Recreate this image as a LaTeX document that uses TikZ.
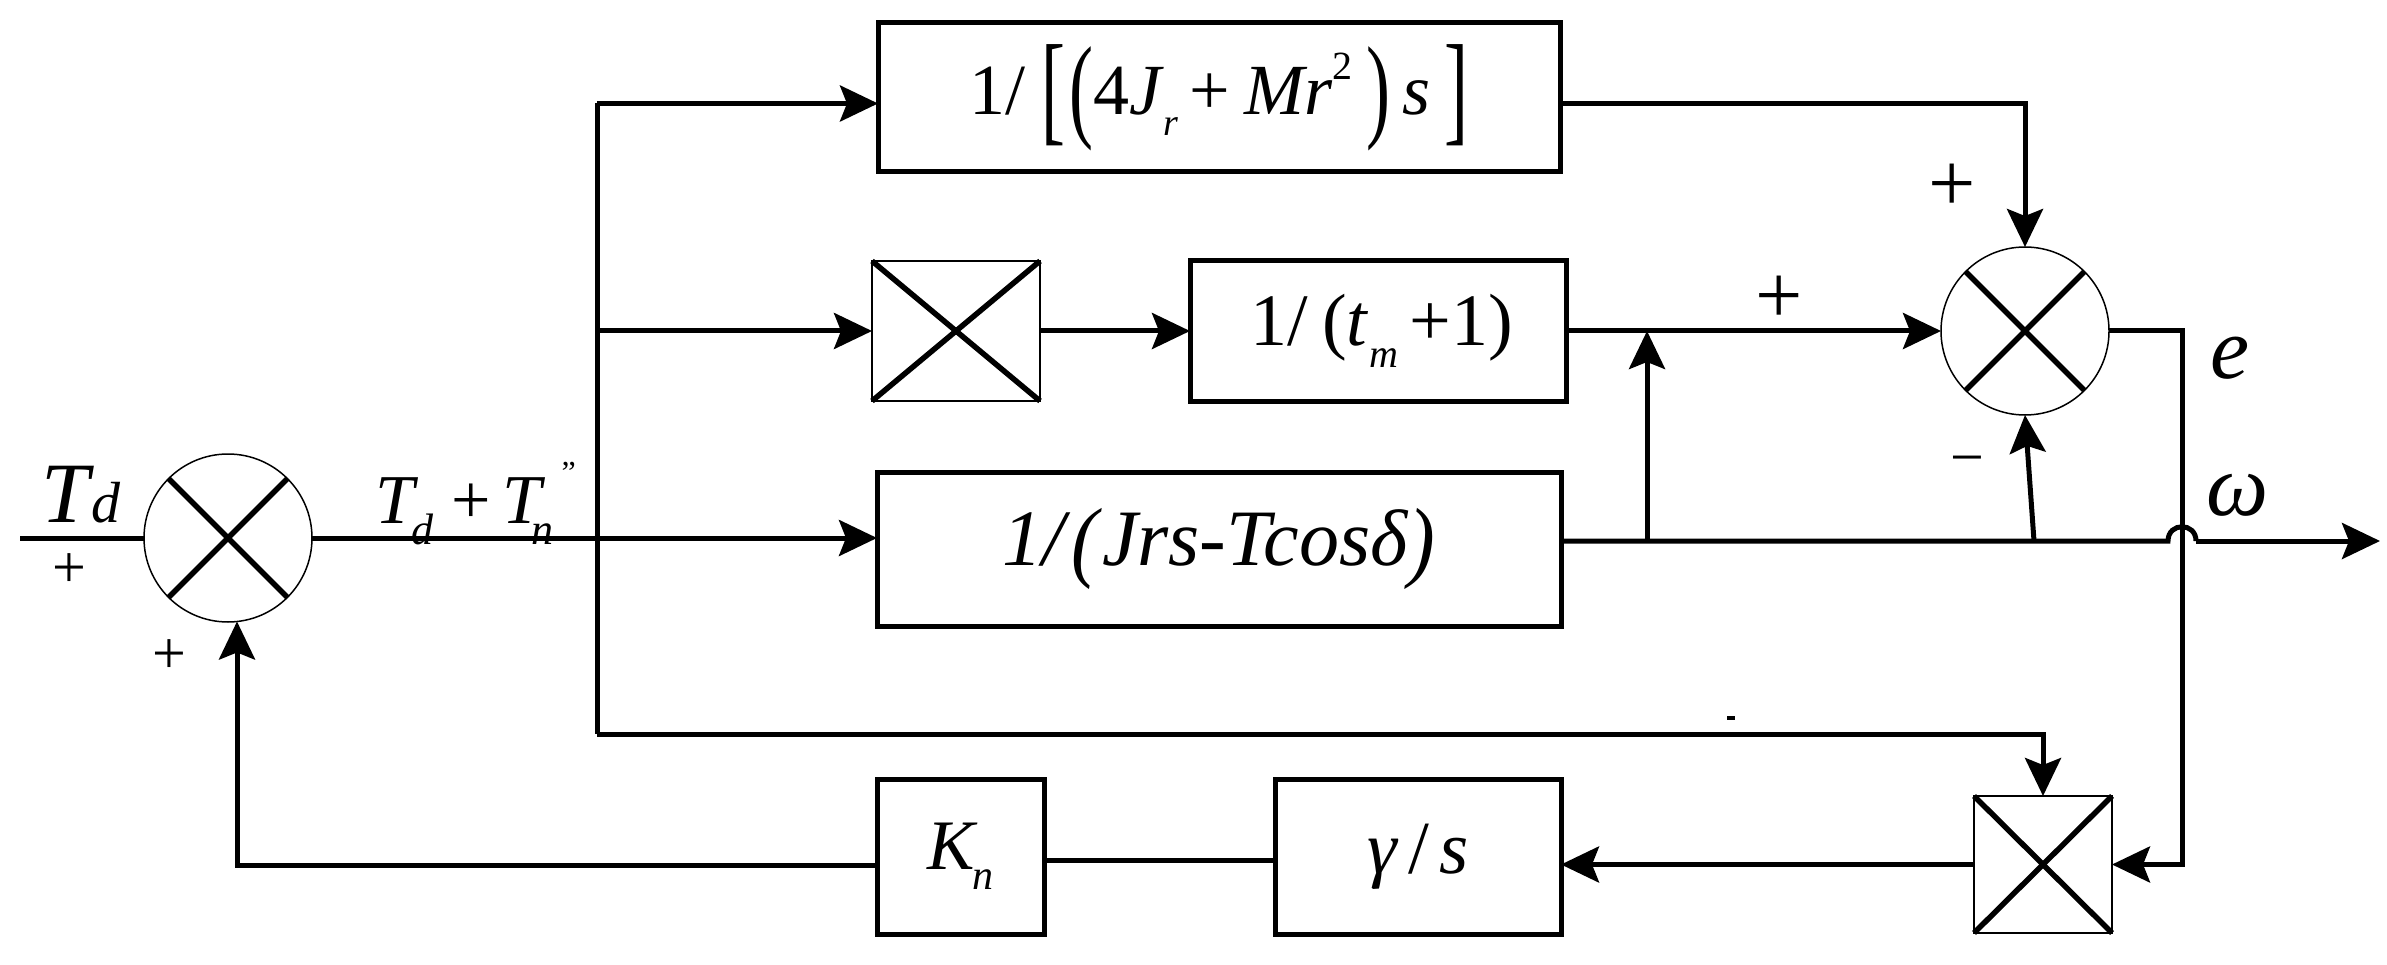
\documentclass[tikz,border=0pt]{standalone}
\usepackage{fontspec}
\setmainfont{Liberation Serif}
\usepackage{graphicx}
\usetikzlibrary{arrows.meta,calc}
\newcommand\bigp[1]{\raisebox{-0.17em}{\scalebox{1}[1.6]{#1}}}
\newcommand\bigb[1]{\raisebox{-0.21em}{\scalebox{1}[1.7]{#1}}}
\newcommand\fs[1]{\fontsize{#1}{#1}\selectfont}
\begin{document}
\begin{tikzpicture}[x=1pt,y=-1pt,
  conn/.style={line width=5pt},
  arr/.style={line width=5pt,-{Stealth[length=38pt,width=36pt,inset=7pt]}},
  blk/.style={draw,line width=5pt,inner sep=0pt,outer sep=0pt},
  sumc/.style={draw,circle,line width=1.5pt,minimum size=168pt,inner sep=0pt,outer sep=0pt},
  mulb/.style={draw,rectangle,line width=1.5pt,inner sep=0pt,outer sep=0pt},
  xline/.style={line width=5.5pt},
  lbl/.style={inner sep=0pt,outer sep=0pt},
  sgnb/.style={inner sep=0pt,font=\fs{84}},
  sgns/.style={inner sep=0pt,font=\fs{60}}
]
\useasboundingbox (0,0) rectangle (2387,965);

% blocks
\node[blk,minimum width=682pt,minimum height=149pt] (top) at (1219,97.5)
  {\fs{72}1/\hspace{16pt}\bigb{[}\hspace{4pt}\bigp{(}4\textit{J}\kern-1pt\raisebox{-0.3em}{\fs{38}\textit{r}}\hspace{12pt}+\hspace{14pt}\textit{Mr}\raisebox{0.48em}{\fs{40}2}\hspace{14pt}\bigp{)}\hspace{12pt}\textit{s}\hspace{14pt}\bigb{]}\hspace{27pt}};
\node[blk,minimum width=376pt,minimum height=140pt] (tm) at (1378,331)
  {\fs{74}\hspace{8pt}1/\hspace{14pt}(\textit{t}\raisebox{-0.3em}{\fs{40}\textit{m}}\hspace{12pt}+1)};
\node[blk,minimum width=684pt,minimum height=154pt] (jrs) at (1219,549)
  {\fs{80}\textit{1/}\raisebox{-0.06em}{\scalebox{1}[1.12]{\textit{(}}}\textit{Jrs-Tcos}\textit{δ}\raisebox{-0.06em}{\scalebox{1}[1.12]{\textit{)}}}};
\node[blk,minimum width=286pt,minimum height=155pt] (gam) at (1418,856.5)
  {\fs{75}\textit{γ}\hspace{10pt}/\hspace{10pt}\textit{s}};
\node[blk,minimum width=167pt,minimum height=155pt] (kn) at (960.5,856.5)
  {\fs{71}\textit{K}\kern-6pt\raisebox{-20pt}{\fs{42}\textit{n}}};

% multipliers
\node[mulb,minimum width=168pt,minimum height=140pt] (m1) at (956,331) {};
\draw[xline] (m1.north west) -- (m1.south east);
\draw[xline] (m1.south west) -- (m1.north east);
\node[mulb,minimum width=138pt,minimum height=137pt] (m2) at (2043,864.5) {};
\draw[xline] (m2.north west) -- (m2.south east);
\draw[xline] (m2.south west) -- (m2.north east);

% summing junctions
\node[sumc] (c1) at (228,538) {};
\draw[xline] (c1.north west) -- (c1.south east);
\draw[xline] (c1.south west) -- (c1.north east);
\node[sumc] (c2) at (2025,331) {};
\draw[xline] (c2.north west) -- (c2.south east);
\draw[xline] (c2.south west) -- (c2.north east);

% coordinates
\coordinate (in) at (20,538);
\coordinate (b1) at (597,103.5);
\coordinate (b2) at (597,331);
\coordinate (b3) at (597,538);
\coordinate (b4) at (597,734);
\coordinate (jo) at ($(jrs.east)+(0,-8)$);
\coordinate (j1) at (1647,541);
\coordinate (j2) at (2034,541);
\coordinate (h1) at (2168,541);
\coordinate (h2) at (2196,541);
\coordinate (wend) at (2380,541);
\coordinate (eo) at (2182,331);
\coordinate (c1in) at ($(c1.center)+(9,83.5)$);
\coordinate (kl) at (877,865);
\coordinate (gk) at (1275,860);

% connectors
\draw[conn] (in) -- (c1.west);
\draw[conn] (c1.east) -- (b3);
\draw[arr] (b3) -- (b3 -| jrs.west);
\draw[conn] (b1) -- (b4);
\draw[arr] (b1) -- (b1 -| top.west);
\draw[arr] (b2) -- (m1.west);
\draw[arr] (m1.east) -- (tm.west);
\draw[arr] (tm.east) -- (c2.west);
\draw[arr] (top.east |- b1) -| (c2.north);
\draw[conn] (jo) -- (h1) .. controls (2168,522) and (2196,522) .. (h2);
\draw[arr] (h2) -- (wend);
\draw[arr] (j1) -- (j1 |- tm.east);
\draw[arr] (j2) -- (c2.south);
\draw[arr] (c2.east) -- (eo) |- (m2.east);
\draw[arr] (b4) -| (m2.north);
\draw[arr] (m2.west) -- (m2.west -| gam.east);
\draw[conn] (gk) -- (gk -| kn.east);
\draw[arr] (kl) -| (c1in);

% labels
\node[lbl,anchor=base west] (ltd) at (41,522) {\fs{86}\textit{T}\kern-2pt\textit{\fs{58}d}};
\node[lbl,anchor=base west] (lsum) at (375,523) {\fs{70}\textit{T}\kern-7pt\raisebox{-21pt}{\fs{44}\textit{d}}\hspace{18pt}+\hspace{12pt}\textit{T}\kern-14pt\raisebox{-21pt}{\fs{44}\textit{n}}\hspace{8pt}\raisebox{40pt}{\fs{32}"}};
\node[lbl] (le) at (2230,358) {\fs{88}\textit{e}};
\node[lbl] (lw) at (2238,495) {\fs{88}\textit{ω}};
\node[sgns] (p1) at (69,571) {+};
\node[sgns] (p2) at (169,657) {+};
\node[sgnb] (p3) at (1952,188) {+};
\node[sgnb] (p4) at (1779,300) {+};
\node[sgns] (mn) at (1967,467) {−};
\node[fill,inner sep=0pt,minimum width=8pt,minimum height=4pt] (dot) at (1731,718) {};
\end{tikzpicture}
\end{document}
